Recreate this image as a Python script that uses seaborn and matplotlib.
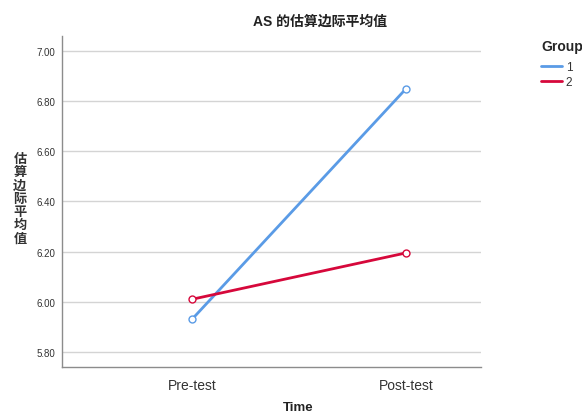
import matplotlib
matplotlib.use("Agg")
import matplotlib.pyplot as plt
import seaborn as sns
import pandas as pd

times = ["Pre-test", "Post-test"]
group1 = [5.93, 6.85]
group2 = [6.01, 6.195]
groups = ["1", "2"]
yticks = [5.80, 6.00, 6.20, 6.40, 6.60, 6.80, 7.00]

df = pd.DataFrame({
    "Time": times * 2,
    "AS": group1 + group2,
    "Group": [groups[0]] * 2 + [groups[1]] * 2,
})

sns.set_theme(style="white")
plt.rcParams["font.family"] = ["Liberation Sans", "Noto Sans CJK SC", "DejaVu Sans"]

fig = plt.figure(figsize=(5.82, 4.14), dpi=100)
ax = fig.add_axes([62 / 582, 1 - 368 / 414, (481 - 62) / 582, (368 - 37) / 414])

palette = {"1": "#5a9be6", "2": "#d6083b"}
sns.lineplot(data=df, x="Time", y="AS", hue="Group", palette=palette, ax=ax,
             marker="o", markersize=5, markerfacecolor="white",
             markeredgewidth=1.0, linewidth=2.0, sort=False)
for line in ax.lines:
    line.set_markeredgecolor(line.get_color())
    line.set_zorder(3)

ax.set_xlim(-0.607, 1.35)
ax.set_ylim(5.74, 7.06)
ax.set_yticks(yticks)
ax.set_yticklabels([f"{v:.2f}" for v in yticks], fontsize=7, color="#333333")
ax.tick_params(axis="x", labelsize=10, colors="#333333", length=0, pad=8)
ax.tick_params(axis="y", length=0, pad=5)
ax.yaxis.grid(True, color="#d4d4d4", linewidth=1.0)
ax.set_axisbelow(True)
for s in ["top", "right"]:
    ax.spines[s].set_visible(False)
for s in ["left", "bottom"]:
    ax.spines[s].set_color("#8c8c8c")
    ax.spines[s].set_linewidth(1.0)
ax.set_xlabel("")
ax.set_ylabel("")

leg = ax.legend(title="Group", loc="upper left", bbox_to_anchor=(541 / 582, 1 - 40 / 414),
                bbox_transform=fig.transFigure, frameon=False, fontsize=8.5,
                handlelength=1.8, handletextpad=0.3, labelspacing=0.2,
                borderaxespad=0, borderpad=0)
leg.get_title().set_fontweight("bold")
leg.get_title().set_fontsize(10)
leg._legend_box.align = "left"
leg._legend_box.sep = 6
for t in leg.get_texts():
    t.set_color("#333333")
for line in leg.get_lines():
    line.set_marker("")
    line.set_linewidth(2.0)

fig.text(320 / 582, 1 - 22 / 414, "AS 的估算边际平均值", ha="center", va="center",
         fontsize=10, fontweight="bold", color="#222222")
fig.text(298 / 582, 1 - 408 / 414, "Time", ha="center", va="center",
         fontsize=9.5, fontweight="bold", color="#222222")
fig.text(20 / 582, 1 - 200 / 414, "\n".join("估算边际平均值"), ha="center", va="center",
         fontsize=9.5, fontweight="bold", color="#333333", linespacing=1.12)

fig.savefig("out.png", dpi=100)
